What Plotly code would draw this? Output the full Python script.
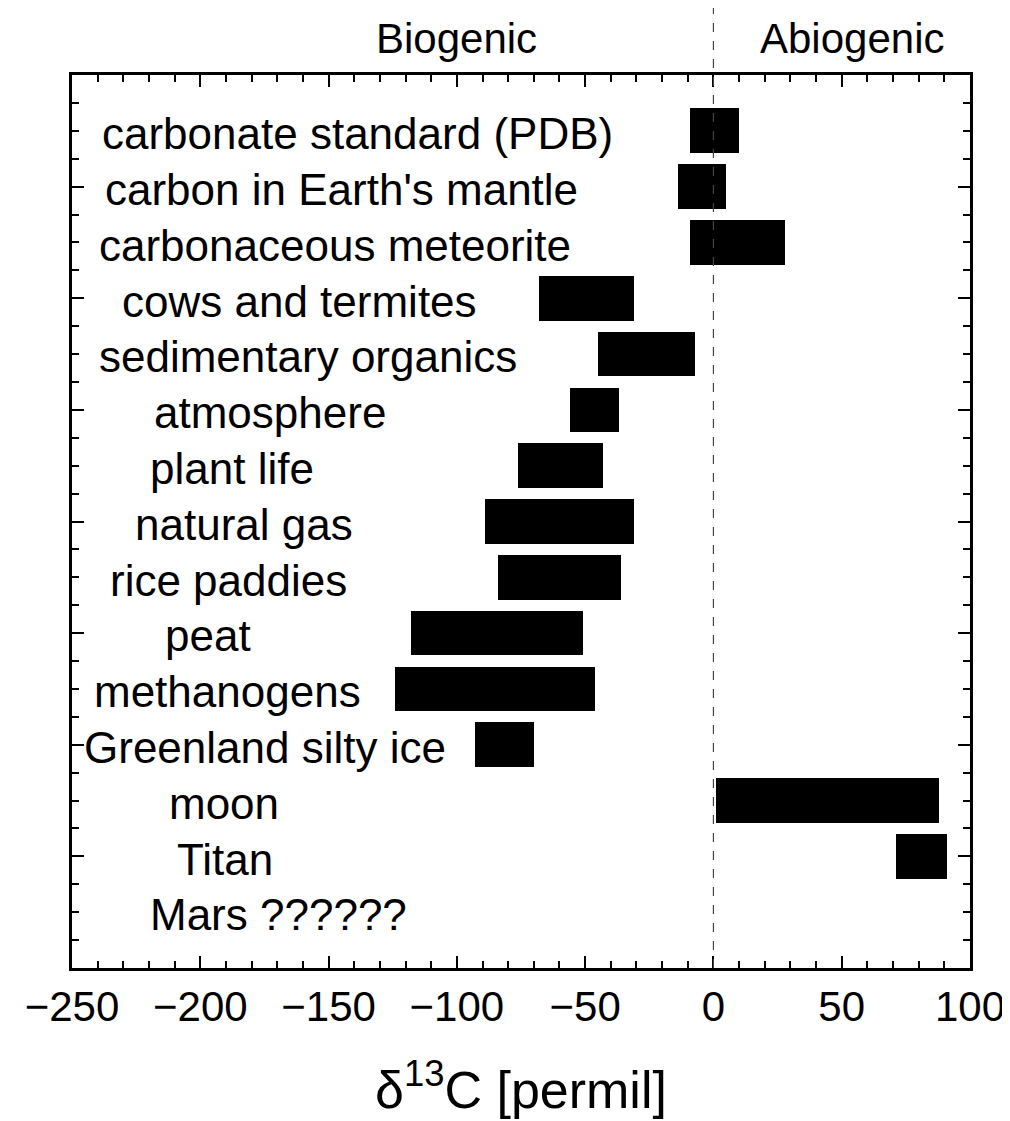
import plotly.graph_objects as go

# Data
categories = [
    "carbonate standard (PDB)",
    "carbon in Earth's mantle",
    "carbonaceous meteorite",
    "cows and termites",
    "sedimentary organics",
    "atmosphere",
    "plant life",
    "natural gas",
    "rice paddies",
    "peat",
    "methanogens",
    "Greenland silty ice",
    "moon",
    "Titan",
    "Mars ??????",
]
low_values = [-9, -14, -9, -68, -45, -56, -76, -89, -84, -118, -124, -93, 1, 71, None]
high_values = [10, 5, 28, -31, -7, -37, -43, -31, -36, -51, -46, -70, 88, 91, None]

x_ticks = [-250, -200, -150, -100, -50, 0, 50, 100]
region_labels = ["Biogenic", "Abiogenic"]

# label left anchors (styling)
label_x = [-239, -238, -240.3, -231.3, -240.3, -218.8, -220.4, -226.2, -236,
           -214.5, -242.2, -246.1, -213, -209.9, -220.4]

rows = list(range(1, len(categories) + 1))
bar_rows = [r for r, lo in zip(rows, low_values) if lo is not None]
bases = [lo for lo in low_values if lo is not None]
widths = [hi - lo for lo, hi in zip(low_values, high_values) if lo is not None]

fig = go.Figure()
fig.add_trace(go.Bar(
    y=bar_rows, x=widths, base=bases, orientation="h",
    width=0.8, marker=dict(color="black", line=dict(width=0)),
    showlegend=False, hoverinfo="skip",
))

FONT = "Liberation Sans, Arial, sans-serif"

for r, name, lx in zip(rows, categories, label_x):
    fig.add_annotation(x=lx, y=r + 0.05, text=name, xref="x", yref="y",
                       xanchor="left", yanchor="middle", showarrow=False,
                       font=dict(family=FONT, size=44, color="black"))

fig.add_annotation(x=-100.3, y=1.041, xref="x", yref="paper", text=region_labels[0],
                   showarrow=False, xanchor="center", yanchor="middle",
                   font=dict(family=FONT, size=42, color="black"))
fig.add_annotation(x=54, y=1.041, xref="x", yref="paper", text=region_labels[1],
                   showarrow=False, xanchor="center", yanchor="middle",
                   font=dict(family=FONT, size=42, color="black"))

fig.add_shape(type="line", x0=0, x1=0, xref="x", y0=0, y1=1.078, yref="paper",
              line=dict(color="#444", width=1.2, dash="dash"))

fig.add_annotation(x=0.5, y=-0.1713, xref="paper", yref="paper",
                   text="δ<sup>13</sup>C [permil]", showarrow=False,
                   xanchor="center", yanchor="bottom",
                   font=dict(family=FONT, size=52, color="black"))

fig.update_xaxes(
    range=[-250, 100], tickvals=x_ticks,
    ticktext=[("−" + str(-v)) if v < 0 else str(v) for v in x_ticks],
    ticks="inside", ticklen=12, tickwidth=2, tickcolor="black",
    minor=dict(dtick=10, tick0=0, ticks="inside", ticklen=7, tickwidth=2, tickcolor="black"),
    showline=True, linewidth=2.5, linecolor="black", mirror="allticks",
    showgrid=False, zeroline=False, automargin=False,
    tickfont=dict(family=FONT, size=42, color="black"),
)
fig.update_yaxes(
    range=[16, 0], tick0=0, dtick=2,
    ticks="inside", ticklen=12, tickwidth=2, tickcolor="black",
    minor=dict(dtick=0.5, tick0=0, ticks="inside", ticklen=7, tickwidth=2, tickcolor="black"),
    showline=True, linewidth=2.5, linecolor="black", mirror="allticks",
    showticklabels=False, showgrid=False, zeroline=False, automargin=False,
)

# page body adds an 8px offset; margins compensate so the plot sits at 72..970 x 75..968
fig.update_layout(
    width=1010, height=1121,
    margin=dict(l=64, r=48, t=67, b=161),
    plot_bgcolor="white", paper_bgcolor="white",
    bargap=0,
)

fig.write_html("out.html")
